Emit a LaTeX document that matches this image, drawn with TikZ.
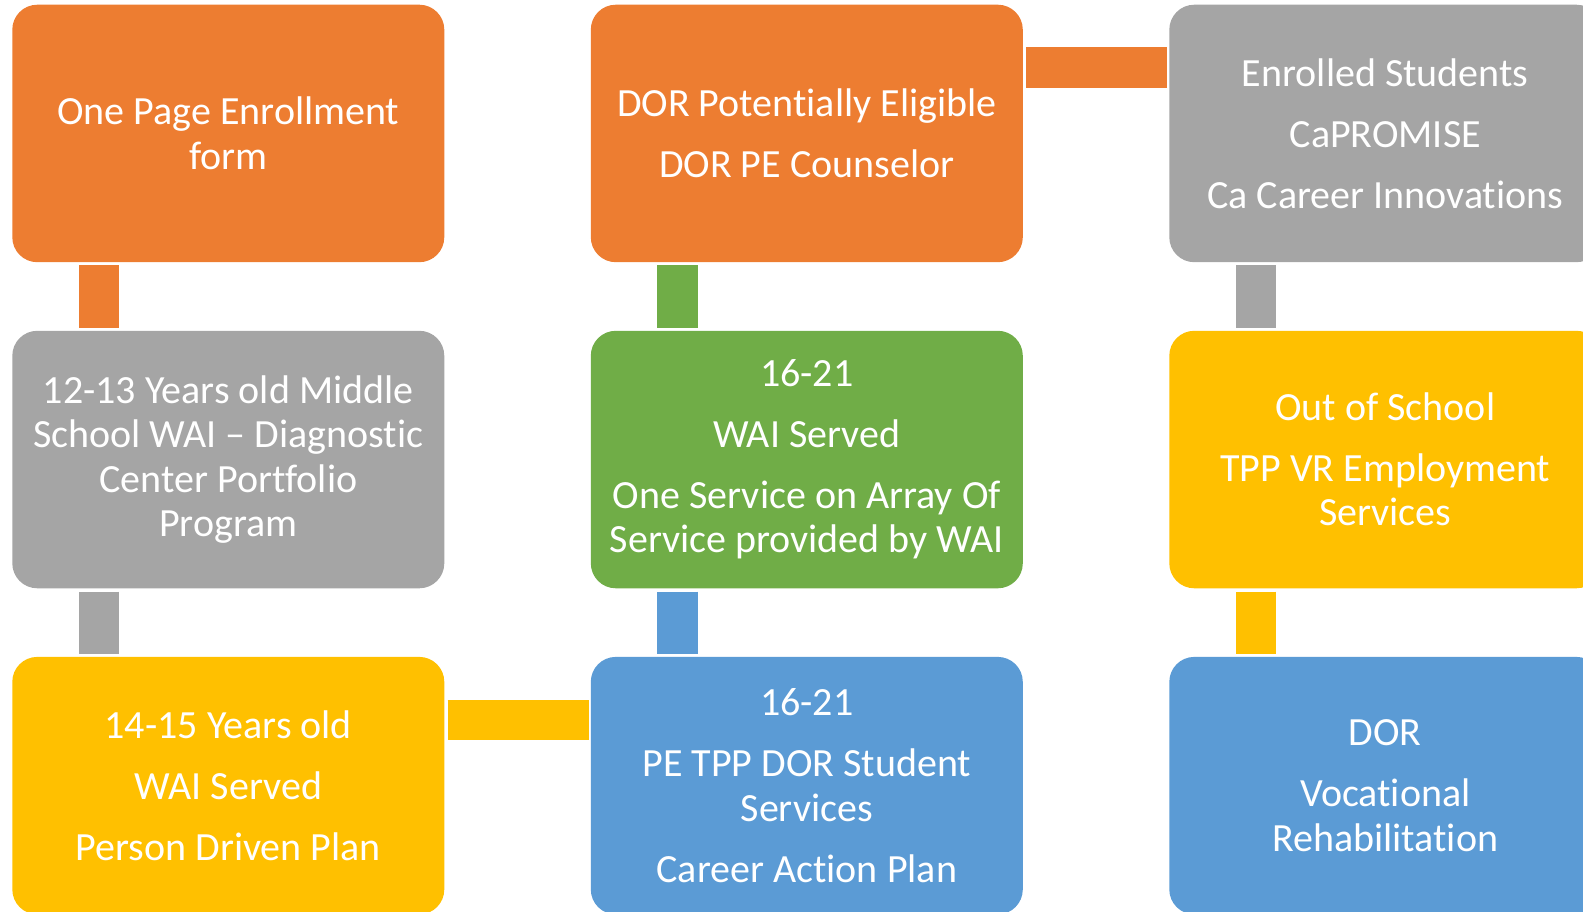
\documentclass[tikz,border=0pt]{standalone}
\usepackage{fontspec}
\setmainfont{Carlito}[Ligatures=CommonOff]
\usepackage{tikz}
\definecolor{boxorange}{HTML}{ED7D31}
\definecolor{boxgray}{HTML}{A5A5A5}
\definecolor{boxyellow}{HTML}{FFC000}
\definecolor{boxblue}{HTML}{5B9BD5}
\definecolor{boxgreen}{HTML}{70AD47}

\begin{document}
\begin{tikzpicture}[x=1pt,y=-1pt,
    box/.style={rectangle,rounded corners=25pt,anchor=north west,inner sep=0pt,
        minimum width=432pt,minimum height=257.5pt,text width=420pt,align=flush center,
        text=white,font=\fontsize{40}{44.4}\selectfont},
    link/.style={line width=40.4pt}]
    \clip (0,0) rectangle (1583,912);
    % prima riga
    \node[box,fill=boxorange] (enroll) at (12.1,4.5) {One Page Enrollment\\form};
    \node[box,fill=boxorange] (eligible) at (590.6,4.5) {DOR Potentially Eligible\\[16.5pt]DOR PE Counselor};
    \node[box,fill=boxgray] (enrolled) at (1169.1,4.5) {Enrolled Students\\[16.5pt]CaPROMISE\\[16.5pt]Ca Career Innovations};
    % seconda riga
    \node[box,fill=boxgray] (middle) at (12.1,330.6) {12-13 Years old Middle\\School WAI \textendash{} Diagnostic\\Center Portfolio\\Program};
    \node[box,fill=boxgreen] (served) at (590.6,330.6) {16-21\\[16.5pt]WAI Served\\[16.5pt]One Service on Array Of\\Service provided by WAI};
    \node[box,fill=boxyellow] (outschool) at (1169.1,330.6) {Out of School\\[16.5pt]TPP VR Employment\\Services};
    % terza riga
    \node[box,fill=boxyellow] (youth) at (12.1,656.7) {14-15 Years old\\[16.5pt]WAI Served\\[16.5pt]Person Driven Plan};
    \node[box,fill=boxblue] (student) at (590.6,656.7) {16-21\\[16.5pt]PE TPP DOR Student\\Services\\[16.5pt]Career Action Plan};
    \node[box,fill=boxblue] (rehab) at (1169.1,656.7) {DOR\\[16.5pt]Vocational\\Rehabilitation};
    % collegamenti verticali
    \draw[link,boxorange]([xshift=86.8pt,yshift=-3pt]enroll.south west)--([xshift=86.8pt,yshift=3pt]middle.north west);
    \draw[link,boxgray]([xshift=86.8pt,yshift=-3pt]middle.south west)--([xshift=86.8pt,yshift=3pt]youth.north west);
    \draw[link,boxgreen]([xshift=86.8pt,yshift=-3pt]eligible.south west)--([xshift=86.8pt,yshift=3pt]served.north west);
    \draw[link,boxblue]([xshift=86.8pt,yshift=-3pt]served.south west)--([xshift=86.8pt,yshift=3pt]student.north west);
    \draw[link,boxgray]([xshift=86.8pt,yshift=-3pt]enrolled.south west)--([xshift=86.8pt,yshift=3pt]outschool.north west);
    \draw[link,boxyellow]([xshift=86.8pt,yshift=-3pt]outschool.south west)--([xshift=86.8pt,yshift=3pt]rehab.north west);
    % collegamenti orizzontali
    \draw[link,boxorange]([xshift=3pt,yshift=-63pt]eligible.north east)--([xshift=-2pt,yshift=-63pt]enrolled.north west);
    \draw[link,boxyellow]([xshift=3pt,yshift=-63.5pt]youth.north east)--([xshift=-2pt,yshift=-63.5pt]student.north west);
\end{tikzpicture}
\end{document}
